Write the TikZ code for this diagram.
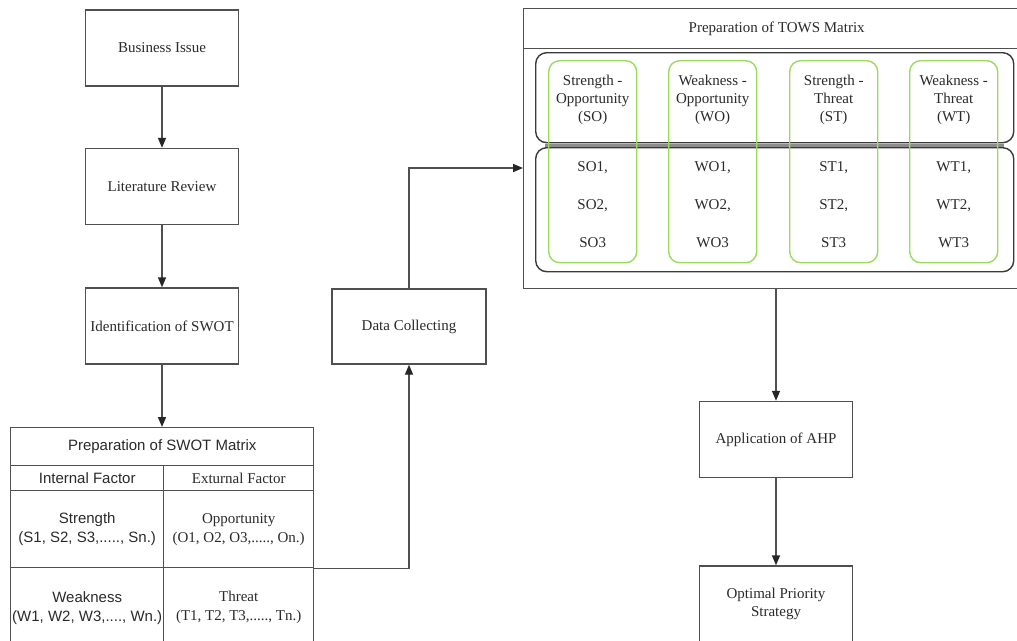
\documentclass[tikz,border=0pt]{standalone}
\usepackage{fontspec}
\setmainfont{Liberation Serif}
\setsansfont{Liberation Sans}
\usetikzlibrary{arrows.meta,calc}
\definecolor{lc}{HTML}{505050}
\definecolor{tc}{HTML}{2A2A2A}
\definecolor{gc}{HTML}{9ADB5E}
\definecolor{rc}{HTML}{3A3A3A}
\begin{document}
\begin{tikzpicture}[x=1pt,y=-1pt,
  stepbox/.style={draw=lc,line width=1.4pt,minimum width=153pt,minimum height=76pt,inner sep=0pt,align=center,text=tc,font=\fontsize{15}{18}\selectfont},
  cell/.style={draw=lc,line width=1.4pt,inner sep=0pt,align=center,text=tc,anchor=north west},
  sanscell/.style={cell,font=\sffamily\fontsize{15}{19}\selectfont},
  serifcell/.style={cell,font=\fontsize{15}{19}\selectfont},
  darkround/.style={draw=rc,line width=1.4pt,rounded corners=11pt,inner sep=0pt,anchor=north west},
  greenround/.style={draw=gc,line width=1.4pt,rounded corners=11pt,inner sep=0pt,anchor=north west,minimum width=88pt,minimum height=202pt},
  ttext/.style={text=tc,align=center,inner sep=0pt,font=\fontsize{15}{18}\selectfont},
  arr/.style={draw=lc,line width=1.4pt,-{Triangle[length=10pt,width=8pt,color=black!85]}}
]
\useasboundingbox (0,0) rectangle (1017,640);
\clip (0,0) rectangle (1017,640);

% left column
\node[stepbox] (bi) at (162,48) {Business Issue};
\node[stepbox] (lr) at (162,186.5) {Literature Review};
\node[stepbox] (id) at (162,326) {Identification of SWOT};

% SWOT matrix
\node[sanscell,minimum width=303pt,minimum height=38pt] (swt) at (10,427) {Preparation of SWOT Matrix};
\node[sanscell,minimum width=153pt,minimum height=25pt] (hl) at (10,465) {Internal Factor};
\node[serifcell,minimum width=150pt,minimum height=25pt] (hr) at (163,465) {Exturnal Factor};
\node[sanscell,minimum width=153pt,minimum height=77pt] (r1l) at (10,490) {Strength\\(S1, S2, S3,....., Sn.)};
\node[serifcell,minimum width=150pt,minimum height=77pt] (r1r) at (163,490) {Opportunity\\(O1, O2, O3,....., On.)};
\node[sanscell,minimum width=153pt,minimum height=80pt] (r2l) at (10,567) {Weakness\\(W1, W2, W3,...., Wn.)};
\node[serifcell,minimum width=150pt,minimum height=80pt] (r2r) at (163,567) {Threat\\(T1, T2, T3,....., Tn.)};

% Data collecting
\node[stepbox,minimum width=154pt,minimum height=75pt] (dc) at (409,326.5) {Data Collecting};

% TOWS matrix
\node[cell,minimum width=506pt,minimum height=280pt] (tows) at (523,8) {};
\node[cell,minimum width=506pt,minimum height=40pt,font=\fontsize{15}{18}\selectfont] (towst) at (523,8) {Preparation of TOWS Matrix};
\node[darkround,minimum width=478pt,minimum height=124pt] (tr2) at (535,147) {};
\node[darkround,minimum width=478pt,minimum height=90pt] (tr1) at (535,52) {};
\draw[black!45,line width=2.5pt] ([xshift=10pt,yshift=-2pt]tr1.south west) -- ([xshift=-10pt,yshift=-2pt]tr1.south east);
\node[greenround] (g1) at (548,60) {};
\node[greenround] (g2) at (668,60) {};
\node[greenround] (g3) at (789,60) {};
\node[greenround] (g4) at (909,60) {};

\node[ttext] (h1) at (g1.north |- 0,100) {Strength -\\Opportunity\\(SO)};
\node[ttext] (h2) at (g2.north |- 0,100) {Weakness -\\Opportunity\\(WO)};
\node[ttext] (h3) at (g3.north |- 0,100) {Strength -\\Threat\\(ST)};
\node[ttext] (h4) at (g4.north |- 0,100) {Weakness -\\Threat\\(WT)};

\node[ttext] (so1) at (g1.north |- 0,168) {SO1,};
\node[ttext] (so2) at (g1.north |- 0,206) {SO2,};
\node[ttext] (so3) at (g1.north |- 0,243) {SO3};
\node[ttext] (wo1) at (g2.north |- 0,168) {WO1,};
\node[ttext] (wo2) at (g2.north |- 0,206) {WO2,};
\node[ttext] (wo3) at (g2.north |- 0,243) {WO3};
\node[ttext] (st1) at (g3.north |- 0,168) {ST1,};
\node[ttext] (st2) at (g3.north |- 0,206) {ST2,};
\node[ttext] (st3) at (g3.north |- 0,243) {ST3};
\node[ttext] (wt1) at (g4.north |- 0,168) {WT1,};
\node[ttext] (wt2) at (g4.north |- 0,206) {WT2,};
\node[ttext] (wt3) at (g4.north |- 0,243) {WT3};

% right column
\node[stepbox] (ahp) at (776,439.5) {Application of AHP};
\node[stepbox] (opt) at (776,604) {Optimal Priority\\Strategy};

\coordinate (tin) at (523,168);

% connectors
\draw[arr] (bi) -- (lr);
\draw[arr] (lr) -- (id);
\draw[arr] (id.south) -- (id.south |- swt.north);
\draw[arr] (r1r.south east) -| (dc.south);
\draw[arr] (dc.north) |- (tin);
\draw[arr] (ahp.north |- tows.south) -- (ahp.north);
\draw[arr] (ahp) -- (opt);
\end{tikzpicture}
\end{document}
